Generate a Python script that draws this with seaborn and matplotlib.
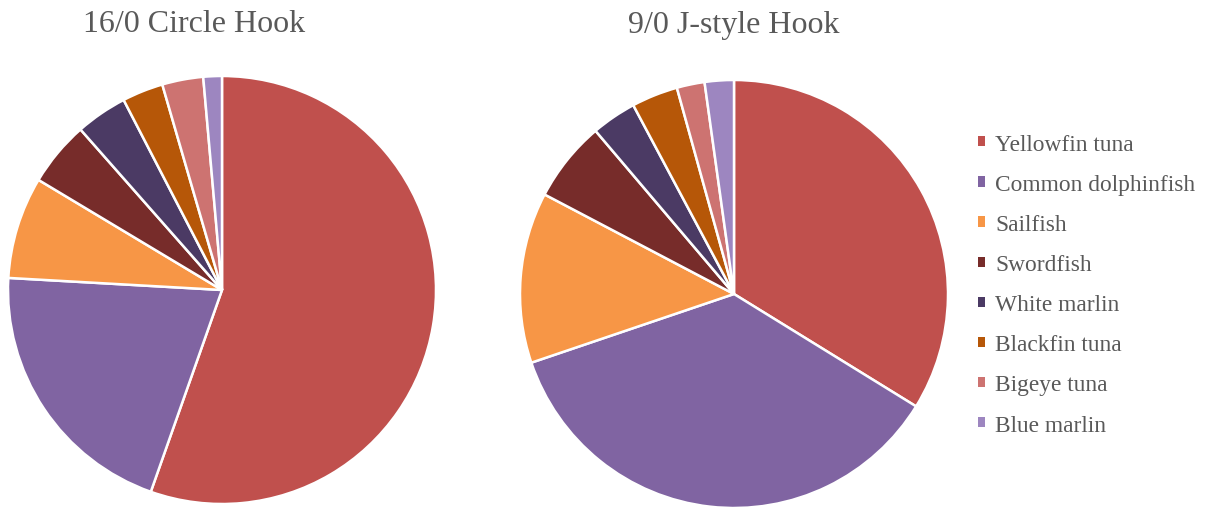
import matplotlib
matplotlib.use("Agg")
import matplotlib.pyplot as plt
import seaborn as sns
from matplotlib.patches import Patch

# Catch composition by hook type (percent of catch)
species = ["Yellowfin tuna", "Common dolphinfish", "Sailfish", "Swordfish",
           "White marlin", "Blackfin tuna", "Bigeye tuna", "Blue marlin"]
circle_hook = [55.4, 20.5, 7.7, 4.9, 3.9, 3.1, 3.1, 1.4]
j_hook = [33.8, 36.0, 12.9, 6.1, 3.4, 3.5, 2.1, 2.2]
titles = ["16/0 Circle Hook", "9/0 J-style Hook"]

sns.set_theme(style="white")
plt.rcParams["font.family"] = ["Liberation Serif", "DejaVu Serif"]

colors = sns.color_palette(["#C0504D", "#8064A2", "#F79646", "#772C2A",
                            "#4B3A64", "#B65708", "#CD7371", "#9D86C0"])
text_color = "#595959"

W, H = 1211, 510
fig = plt.figure(figsize=(W / 100, H / 100), dpi=100)

def pie_axes(cx, cy, r):
    return fig.add_axes([(cx - r) / W, (H - cy - r) / H, 2 * r / W, 2 * r / H])

ax1 = pie_axes(222, 291, 214)
ax2 = pie_axes(734, 295, 214)

for ax, vals in ((ax1, circle_hook), (ax2, j_hook)):
    ax.pie(vals, colors=colors, startangle=90, counterclock=False,
           wedgeprops=dict(edgecolor="white", linewidth=1.8))
    ax.set_xlim(-1.0, 1.0)
    ax.set_ylim(-1.0, 1.0)
    ax.set_aspect("equal")
    ax.axis("off")

fig.text(194 / W, 1 - 25 / H, titles[0], ha="center", va="center",
         fontsize=23, color=text_color)
fig.text(734 / W, 1 - 25 / H, titles[1], ha="center", va="center",
         fontsize=23, color=text_color)

handles = [Patch(facecolor=c, edgecolor="none") for c in colors]
leg = fig.legend(handles, species, loc="upper left",
                 bbox_to_anchor=(966 / W, 1 - 123 / H), frameon=False,
                 fontsize=16.8, handlelength=0.3, handleheight=0.3,
                 handletextpad=0.45, labelspacing=0.82, borderpad=0)
for t in leg.get_texts():
    t.set_color(text_color)

fig.savefig("out.png", dpi=100, facecolor="white")
